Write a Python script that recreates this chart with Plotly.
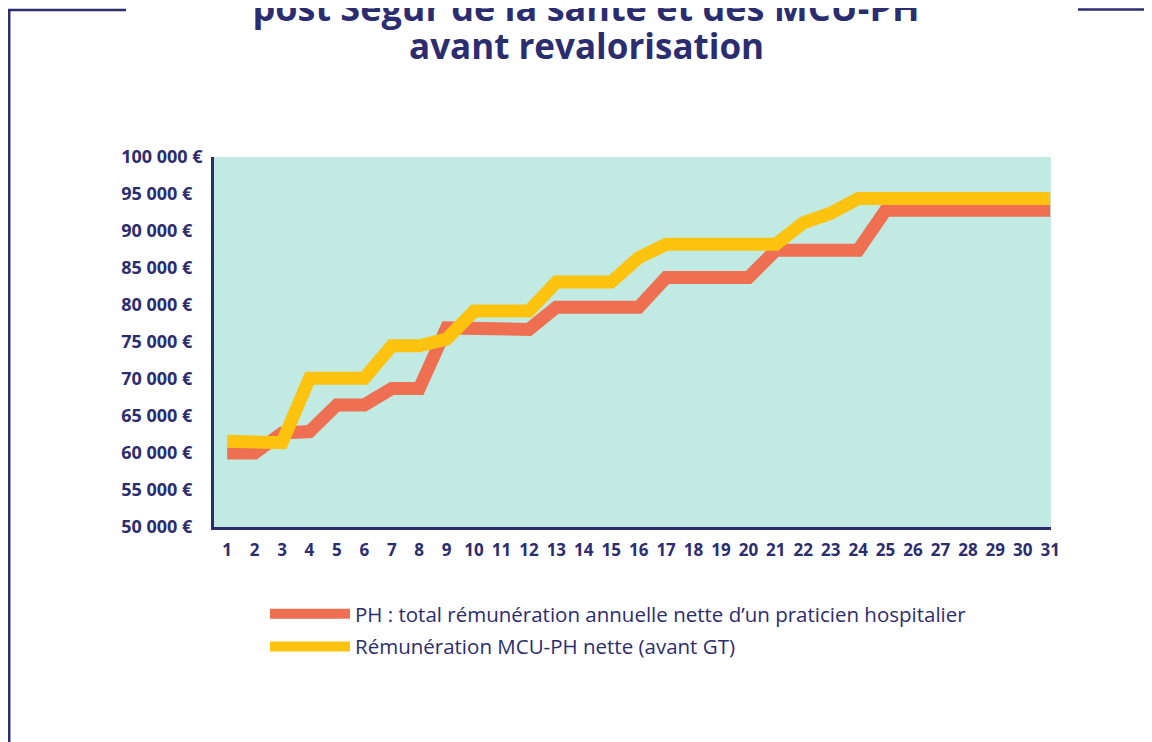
import plotly.graph_objects as go

# ---- data ----
years = list(range(1, 32))
x_tick_labels = [str(v) for v in years]

ph_name = "PH : total rémunération annuelle nette d’un praticien hospitalier"
ph_values = [60000, 60000, 62700, 62900, 66500, 66500, 68700, 68700, 76900, 76800,
             76700, 76700, 79700, 79700, 79700, 79700, 83700, 83700, 83700, 83700,
             87400, 87400, 87400, 87400, 92800, 92800, 92800, 92800, 92800, 92800, 92800]

mcu_name = "Rémunération MCU-PH nette (avant GT)"
mcu_values = [61600, 61600, 61400, 70100, 70100, 70100, 74500, 74500, 75400, 79200,
              79200, 79200, 83100, 83100, 83100, 86400, 88200, 88200, 88200, 88200,
              88200, 91100, 92400, 94400, 94400, 94400, 94400, 94400, 94400, 94400, 94400]

y_tick_values = [50000, 55000, 60000, 65000, 70000, 75000, 80000, 85000, 90000, 95000, 100000]
y_tick_labels = ["50 000 €", "55 000 €", "60 000 €", "65 000 €", "70 000 €", "75 000 €",
                 "80 000 €", "85 000 €", "90 000 €", "95 000 €", "100 000 €"]

title_line1 = "post Ségur de la santé et des MCU-PH"
title_line2 = "avant revalorisation"

# ---- style ----
NAVY = "#2c2d6f"
RED = "#ef6f52"
YELLOW = "#fdc30f"
TEAL = "#c1eae2"
FONT = "Open Sans"

# the page body adds an 8px offset; work in figure coordinates = page - 8
OFF = 8
W, H = 1152 - OFF, 742 - OFF
L, R, T, B = 214 - OFF, 1051 - OFF, 157 - OFF, 527 - OFF
PW, PH_ = R - L, B - T


def px(page_x):
    return (page_x - OFF - L) / PW


def py(page_y):
    return (B - (page_y - OFF)) / PH_


# pad shorter labels with a figure space so they look left-aligned
max_len = max(len(s) for s in y_tick_labels)
y_tick_text = [s + "\u2007" * (max_len - len(s)) for s in y_tick_labels]

fig = go.Figure()
fig.add_trace(go.Scatter(x=years, y=ph_values, name=ph_name, mode="lines",
                         line=dict(color=RED, width=13), legendgroup="a"))
fig.add_trace(go.Scatter(x=years, y=mcu_values, name=mcu_name, mode="lines",
                         line=dict(color=YELLOW, width=13), legendgroup="b"))

frame = dict(type="line", xref="paper", yref="paper", line=dict(color=NAVY, width=2.5), layer="above")
shapes = [
    dict(frame, x0=px(8), x1=px(126), y0=py(10), y1=py(10)),
    dict(frame, x0=px(9.2), x1=px(9.2), y0=py(9), y1=py(760)),
    dict(frame, x0=px(1078), x1=px(1170), y0=py(9.5), y1=py(9.5)),
]

annotations = [
    dict(text="<b>" + title_line2 + "</b>", xref="paper", yref="paper",
         x=px(586), y=py(45), xanchor="center", yanchor="middle", showarrow=False,
         font=dict(family=FONT, size=35, color=NAVY)),
]

fig.update_layout(
    width=W, height=H,
    margin=dict(l=L, r=W - R, t=T, b=H - B, pad=0),
    paper_bgcolor="white",
    plot_bgcolor=TEAL,
    title=dict(text="<b>" + title_line1 + "</b>", x=(586 - OFF) / W, xanchor="center",
               xref="container", yref="container",
               y=1 - (8 - OFF) / H, yanchor="middle",
               font=dict(family=FONT, size=36, color=NAVY)),
    annotations=annotations,
    showlegend=True,
    legend=dict(x=px(265), xanchor="left", y=py(594), yanchor="top",
                font=dict(family=FONT, size=20.5, color=NAVY),
                itemwidth=80, tracegroupgap=3, bgcolor="rgba(0,0,0,0)"),
    shapes=shapes,
    xaxis=dict(range=[0.52, 31.03], tickmode="array", tickvals=years, ticktext=x_tick_labels,
               showgrid=False, zeroline=False, showline=True, linecolor=NAVY, linewidth=2.5,
               ticks="outside", ticklen=6, tickcolor="rgba(0,0,0,0)",
               tickfont=dict(family=FONT, size=17, color=NAVY, weight="bold")),
    yaxis=dict(range=[50000, 100000], tickmode="array", tickvals=y_tick_values, ticktext=y_tick_text,
               showgrid=False, zeroline=False, showline=True, linecolor=NAVY, linewidth=2.5,
               ticks="outside", ticklen=5, tickcolor="rgba(0,0,0,0)",
               tickfont=dict(family=FONT, size=18, color=NAVY, weight="bold")),
)

fig.write_html("out.html")
